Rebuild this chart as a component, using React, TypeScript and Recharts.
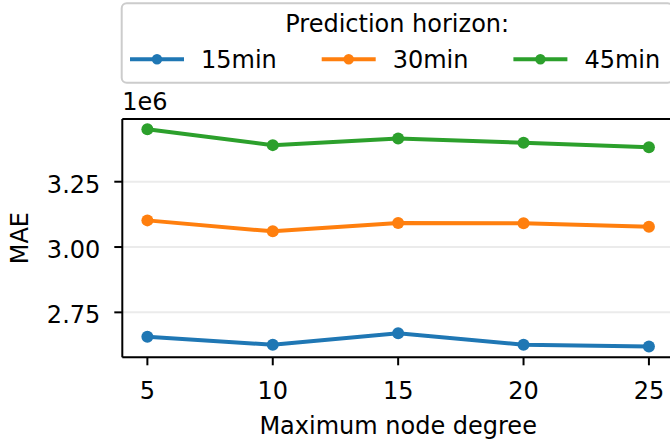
import React from 'react';
import { LineChart, Line, XAxis, YAxis, CartesianGrid, ReferenceLine } from 'recharts';

// maximum node degree on x, MAE (x1e6) on y
const degrees = [5, 10, 15, 20, 25];
const mae15 = [2.657, 2.626, 2.67, 2.626, 2.619];
const mae30 = [3.102, 3.06, 3.092, 3.091, 3.078];
const mae45 = [3.451, 3.39, 3.415, 3.399, 3.382];
const yTicks = [2.75, 3.0, 3.25];
const xTicks = [5, 10, 15, 20, 25];
const Y_DOMAIN: [number, number] = [2.578, 3.49];

const SERIES = [
  { key: 'm15', name: '15min', color: '#1f77b4', values: mae15 },
  { key: 'm30', name: '30min', color: '#ff7f0e', values: mae30 },
  { key: 'm45', name: '45min', color: '#2ca02c', values: mae45 },
];

const data = degrees.map((d, i) => ({
  degree: d,
  m15: mae15[i],
  m30: mae30[i],
  m45: mae45[i],
}));

const FONT = 'DejaVu Sans';
const FS = 24;

function XLabel({ viewBox }: any) {
  const { x, y, width, height } = viewBox;
  return (
    <text x={x + width / 2} y={y + height - 7} textAnchor="middle" fontFamily={FONT} fontSize={FS} fill="#000">
      Maximum node degree
    </text>
  );
}

function YLabel({ viewBox }: any) {
  const { x, y, height } = viewBox;
  const cx = x + 19;
  const cy = y + height / 2;
  return (
    <text
      x={cx}
      y={cy}
      dy="0.36em"
      transform={`rotate(-90, ${cx}, ${cy})`}
      textAnchor="middle"
      fontFamily={FONT}
      fontSize={FS}
      fill="#000"
    >
      MAE
    </text>
  );
}

// scale offset text drawn above the top spine
function OffsetLabel({ viewBox }: any) {
  const { x, y } = viewBox;
  return (
    <text x={x} y={y - 9} fontFamily={FONT} fontSize={FS} fill="#000">
      1e6
    </text>
  );
}

function LegendBox() {
  const step = 191.7;
  return (
    <svg width={670} height={120} style={{ position: 'absolute', left: 0, top: 0 }}>
      <rect x={121.7} y={3.3} width={551} height={79.4} rx={5} fill="#fff" fillOpacity={0.8} stroke="#cccccc" strokeWidth={2} />
      <text x={397.2} y={31.5} textAnchor="middle" fontFamily={FONT} fontSize={FS} fill="#000">
        Prediction horizon:
      </text>
      {SERIES.map((s, i) => {
        const x0 = 130 + i * step;
        return (
          <g key={s.key}>
            <line x1={x0} x2={x0 + 54} y1={59.3} y2={59.3} stroke={s.color} strokeWidth={4} />
            <circle cx={x0 + 27} cy={59.3} r={5.2} fill={s.color} />
            <text x={x0 + 71} y={68} fontFamily={FONT} fontSize={FS} fill="#000">
              {s.name}
            </text>
          </g>
        );
      })}
    </svg>
  );
}

export default function App() {
  return (
    <div
      style={{
        position: 'fixed',
        left: 0,
        top: 0,
        width: 670,
        height: 441,
        overflow: 'hidden',
        background: '#fff',
      }}
    >
      <LineChart width={700} height={441} data={data} margin={{ top: 119, right: 26, bottom: 0, left: 0 }}>
        <CartesianGrid vertical={false} stroke="#ebebeb" strokeWidth={2} />
        <XAxis
          dataKey="degree"
          type="number"
          domain={[4, 26]}
          ticks={xTicks}
          height={83.7}
          tickSize={8}
          tickMargin={17}
          axisLine={{ stroke: '#000', strokeWidth: 2 }}
          tickLine={{ stroke: '#000', strokeWidth: 2 }}
          tick={{ fill: '#000', fontFamily: FONT, fontSize: FS }}
          label={<XLabel />}
          interval={0}
        />
        <YAxis
          type="number"
          domain={Y_DOMAIN}
          ticks={yTicks}
          width={122.3}
          tickSize={8}
          tickMargin={14}
          tickFormatter={(v: number) => v.toFixed(2)}
          axisLine={{ stroke: '#000', strokeWidth: 2 }}
          tickLine={{ stroke: '#000', strokeWidth: 2 }}
          tick={{ fill: '#000', fontFamily: FONT, fontSize: FS, dy: 2.5 }}
          label={<YLabel />}
          interval={0}
          allowDataOverflow
        />
        <ReferenceLine
          y={Y_DOMAIN[1]}
          stroke="#000"
          strokeWidth={2}
          ifOverflow="visible"
          label={<OffsetLabel />}
        />
        {SERIES.map(s => (
          <Line
            key={s.key}
            dataKey={s.key}
            stroke={s.color}
            strokeWidth={4}
            dot={{ r: 6, fill: s.color, stroke: s.color, strokeWidth: 0 }}
            activeDot={false}
            isAnimationActive={false}
          />
        ))}
      </LineChart>
      <LegendBox />
    </div>
  );
}
